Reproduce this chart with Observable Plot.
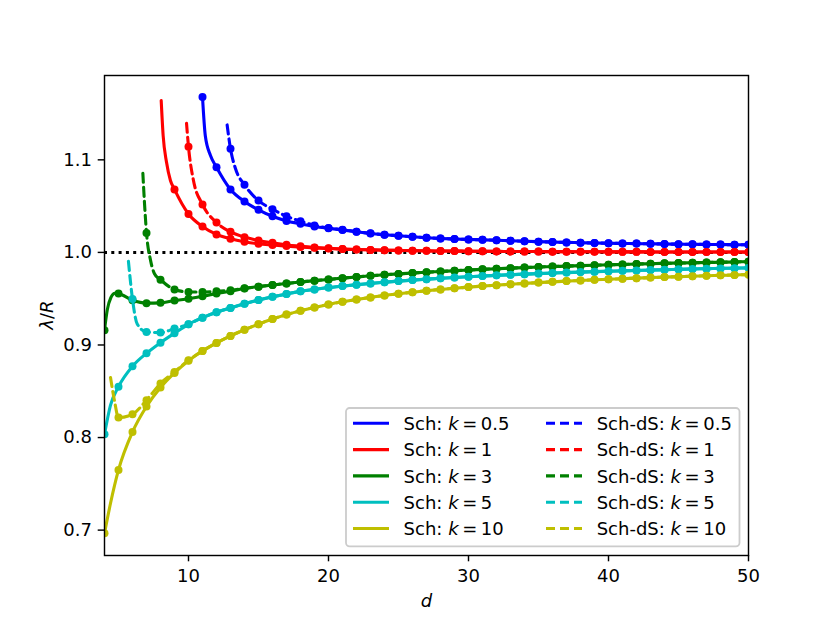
<!DOCTYPE html>
<html><head><meta charset="utf-8">
<script src="https://cdn.jsdelivr.net/npm/d3@7"></script>
<script src="https://cdn.jsdelivr.net/npm/@observablehq/plot@0.6"></script>
<style>
body{margin:0;background:#fff;}
#chart{width:830px;height:623px;}
</style>
</head><body><div id="chart"></div>
<script>
const xTicks = [10, 20, 30, 40, 50];
const yTicks = [0.7, 0.8, 0.9, 1.0, 1.1];
const kLabels = ["0.5", "1", "3", "5", "10"];
const colors = ["#0000ff", "#ff0000", "#008000", "#00bfbf", "#bfbf00"];

// Sch: k = 0.5 (dots at integer d starting at 11)
const schK05_d0 = 11;
const schK05_lam = [1.168, 1.092, 1.068, 1.055, 1.046, 1.039, 1.034, 1.031, 1.028, 1.026,
 1.0243, 1.0223, 1.0205, 1.019, 1.018, 1.0169, 1.0159, 1.0151, 1.0145, 1.014,
 1.0136, 1.0131, 1.0126, 1.0121, 1.0116, 1.0112, 1.0108, 1.0105, 1.0102, 1.0099,
 1.0097, 1.0095, 1.0093, 1.0091, 1.0089, 1.0088, 1.0086, 1.0085, 1.0083, 1.0082];
const schK05_curveD = [11.2, 11.57];
const schK05_curveLam = [1.126, 1.1046];

// Sch-dS: k = 0.5
const dsK05_d0 = 13;
const dsK05_lam = [1.112, 1.073, 1.056, 1.0466, 1.039, 1.0337, 1.0292, 1.0264,
 1.0245, 1.0224, 1.0206, 1.0191, 1.018, 1.0169, 1.0159, 1.0151, 1.0145, 1.014,
 1.0136, 1.0131, 1.0126, 1.0121, 1.0116, 1.0112, 1.0108, 1.0105, 1.0102, 1.0099,
 1.0097, 1.0095, 1.0093, 1.0091, 1.0089, 1.0088, 1.0086, 1.0085, 1.0083, 1.0082];
const dsK05_curveD = [12.76, 13.36];
const dsK05_curveLam = [1.1377, 1.0903];

// Sch: k = 1
const schK1_d0 = 9;
const schK1_lam = [1.068, 1.0415, 1.028, 1.0194, 1.0147, 1.0115, 1.0093, 1.008, 1.0068, 1.0058, 1.0049, 1.0042,
 1.0036, 1.0031, 1.0027, 1.0024, 1.0021, 1.0019, 1.0017, 1.0015, 1.0014, 1.0013,
 1.0012, 1.0011, 1.001, 1.0009, 1.0009, 1.0008, 1.0008, 1.0007, 1.0007, 1.0006,
 1.0006, 1.0006, 1.0005, 1.0005, 1.0005, 1.0004, 1.0004, 1.0004, 1.0004, 1.0003];
const schK1_curveD = [8.05, 8.19, 8.43, 8.71];
const schK1_curveLam = [1.164, 1.126, 1.0974, 1.0777];

// Sch-dS: k = 1
const dsK1_d0 = 10;
const dsK1_lam = [1.114, 1.0518, 1.0323, 1.0222, 1.0165, 1.0129, 1.0104, 1.0082, 1.0066, 1.0054, 1.0045,
 1.0036, 1.0031, 1.0027, 1.0024, 1.0021, 1.0019, 1.0017, 1.0015, 1.0014, 1.0013,
 1.0012, 1.0011, 1.001, 1.0009, 1.0009, 1.0008, 1.0008, 1.0007, 1.0007, 1.0006,
 1.0006, 1.0006, 1.0005, 1.0005, 1.0005, 1.0004, 1.0004, 1.0004, 1.0004, 1.0003];
const dsK1_curveD = [9.86, 10.33];
const dsK1_curveLam = [1.1395, 1.0795];

// Sch: k = 3
const schK3_d0 = 4;
const schK3_lam = [0.916, 0.9555, 0.9483, 0.9452, 0.9455, 0.948, 0.950, 0.9527, 0.9555, 0.958, 0.961, 0.963, 0.9648, 0.9665, 0.968, 0.9695, 0.9708,
 0.9722, 0.9735, 0.9747, 0.9758, 0.9768, 0.9777, 0.9786, 0.9794, 0.9802, 0.981,
 0.9817, 0.9824, 0.983, 0.9836, 0.9842, 0.9847, 0.9852, 0.9857, 0.9862, 0.9866,
 0.987, 0.9874, 0.9878, 0.9882, 0.9885, 0.9888, 0.9891, 0.9894, 0.9897, 0.99];
const schK3_curveD = [4.2, 4.45, 4.75];
const schK3_curveLam = [0.938, 0.951, 0.9558];

// Sch-dS: k = 3
const dsK3_d0 = 7;
const dsK3_lam = [1.021, 0.9705, 0.960, 0.9573, 0.9572, 0.958, 0.959, 0.9612,
 0.963, 0.9648, 0.9665, 0.968, 0.9695, 0.9708,
 0.9722, 0.9735, 0.9747, 0.9758, 0.9768, 0.9777, 0.9786, 0.9794, 0.9802, 0.981,
 0.9817, 0.9824, 0.983, 0.9836, 0.9842, 0.9847, 0.9852, 0.9857, 0.9862, 0.9866,
 0.987, 0.9874, 0.9878, 0.9882, 0.9885, 0.9888, 0.9891, 0.9894, 0.9897, 0.99];
const dsK3_curveD = [6.74, 6.86, 7.29, 7.57];
const dsK3_curveLam = [1.0855, 1.0525, 0.9914, 0.977];

// Sch: k = 5
const schK5_d0 = 4;
const schK5_lam = [0.8035, 0.855, 0.877, 0.891, 0.9025, 0.9127, 0.9223, 0.9295, 0.9353, 0.940, 0.9445, 0.9485, 0.952, 0.955, 0.958, 0.960, 0.962,
 0.9636, 0.9651, 0.9665, 0.9678, 0.969, 0.9701, 0.9711, 0.972, 0.9729, 0.9737,
 0.9745, 0.9752, 0.9759, 0.9765, 0.9771, 0.9777, 0.9782, 0.9787, 0.9792, 0.9797,
 0.9801, 0.9805, 0.9809, 0.9813, 0.9817, 0.9821, 0.9824, 0.9827, 0.983, 0.9833];
const schK5_curveD = [4.43];
const schK5_curveLam = [0.835];

// Sch-dS: k = 5
const dsK5_d0 = 6;
const dsK5_lam = [0.9496, 0.914, 0.9134, 0.9177, 0.9225,
 0.9295, 0.9353, 0.940, 0.9445, 0.9485, 0.952, 0.955, 0.958, 0.960, 0.962,
 0.9636, 0.9651, 0.9665, 0.9678, 0.969, 0.9701, 0.9711, 0.972, 0.9729, 0.9737,
 0.9745, 0.9752, 0.9759, 0.9765, 0.9771, 0.9777, 0.9782, 0.9787, 0.9792, 0.9797,
 0.9801, 0.9805, 0.9809, 0.9813, 0.9817, 0.9821, 0.9824, 0.9827, 0.983, 0.9833];
const dsK5_curveD = [5.71, 6.33];
const dsK5_curveLam = [0.9903, 0.923];

// Sch: k = 10
const schK10_d0 = 4;
const schK10_lam = [0.6966, 0.765, 0.806, 0.8335, 0.854, 0.8698, 0.883, 0.8935, 0.9022, 0.9098, 0.9165, 0.9225, 0.928, 0.9328, 0.937, 0.9406, 0.9438,
 0.9466, 0.9491, 0.9514, 0.9535, 0.9553, 0.957, 0.9586, 0.96, 0.9613, 0.9625,
 0.9636, 0.9646, 0.9656, 0.9665, 0.9674, 0.9682, 0.969, 0.9697, 0.9704, 0.971,
 0.9716, 0.9722, 0.9728, 0.9733, 0.9738, 0.9743, 0.9748, 0.9752, 0.9756, 0.976];
const schK10_curveD = [4.43];
const schK10_curveLam = [0.729];

// Sch-dS: k = 10
const dsK10_d0 = 5;
const dsK10_lam = [0.8216, 0.8252, 0.8404, 0.8584, 0.8709, 0.8835,
 0.8935, 0.9022, 0.9098, 0.9165, 0.9225, 0.928, 0.9328, 0.937, 0.9406, 0.9438,
 0.9466, 0.9491, 0.9514, 0.9535, 0.9553, 0.957, 0.9586, 0.96, 0.9613, 0.9625,
 0.9636, 0.9646, 0.9656, 0.9665, 0.9674, 0.9682, 0.969, 0.9697, 0.9704, 0.971,
 0.9716, 0.9722, 0.9728, 0.9733, 0.9738, 0.9743, 0.9748, 0.9752, 0.9756, 0.976];
const dsK10_curveD = [4.43, 4.71];
const dsK10_curveLam = [0.8648, 0.840];

function build(d0, lam, cd, cl) {
  const dots = lam.map((v, i) => ({d: d0 + i, lam: v}));
  const extra = cd.map((d, i) => ({d, lam: cl[i]}));
  const line = [...dots, ...extra].sort((a, b) => a.d - b.d);
  return {dots, line};
}

const schSeries = [
  build(schK05_d0, schK05_lam, schK05_curveD, schK05_curveLam),
  build(schK1_d0, schK1_lam, schK1_curveD, schK1_curveLam),
  build(schK3_d0, schK3_lam, schK3_curveD, schK3_curveLam),
  build(schK5_d0, schK5_lam, schK5_curveD, schK5_curveLam),
  build(schK10_d0, schK10_lam, schK10_curveD, schK10_curveLam)
];
const dsSeries = [
  build(dsK05_d0, dsK05_lam, dsK05_curveD, dsK05_curveLam),
  build(dsK1_d0, dsK1_lam, dsK1_curveD, dsK1_curveLam),
  build(dsK3_d0, dsK3_lam, dsK3_curveD, dsK3_curveLam),
  build(dsK5_d0, dsK5_lam, dsK5_curveD, dsK5_curveLam),
  build(dsK10_d0, dsK10_lam, dsK10_curveD, dsK10_curveLam)
];

const LW = 3.1, DASH = "9,5", R = 4;
const marks = [Plot.ruleY([1], {stroke: "black", strokeWidth: 3, strokeDasharray: "3,4.3"})];
schSeries.forEach((s, i) => {
  marks.push(Plot.line(s.line, {x: "d", y: "lam", stroke: colors[i], strokeWidth: LW, curve: "monotone-x", clip: true}));
  marks.push(Plot.dot(s.dots, {x: "d", y: "lam", r: R, fill: colors[i], stroke: "none", clip: true}));
});
dsSeries.forEach((s, i) => {
  marks.push(Plot.line(s.line, {x: "d", y: "lam", stroke: colors[i], strokeWidth: LW, strokeDasharray: DASH, curve: "monotone-x", clip: true}));
  marks.push(Plot.dot(s.dots, {x: "d", y: "lam", r: R, fill: colors[i], stroke: "none", clip: true}));
});
marks.push(Plot.frame({stroke: "black", strokeWidth: 1.44}));
marks.push(Plot.axisX({ticks: xTicks, tickSize: 6.3, tickPadding: 7.3, strokeWidth: 1.44, label: null, tickFormat: d => String(d)}));
marks.push(Plot.axisY({ticks: yTicks, tickSize: 6.3, tickPadding: 6.3, strokeWidth: 1.44, label: null, tickFormat: d3.format(".1f")}));

const chart = Plot.plot({
  width: 830, height: 623,
  marginLeft: 104, marginRight: 82, marginTop: 75, marginBottom: 68,
  style: {fontFamily: "DejaVu Sans", fontSize: "18px", background: "white", color: "black", overflow: "visible"},
  x: {domain: [4, 50]},
  y: {domain: [0.67259, 1.1911]},
  marks
});
document.getElementById("chart").appendChild(chart);

const svg = d3.select(chart);
// axis labels
const yl = svg.append("text").attr("transform", "translate(53,315) rotate(-90)")
  .attr("text-anchor", "middle").attr("font-family", "DejaVu Sans").attr("font-size", 18).attr("fill", "black");
yl.append("tspan").attr("font-style", "italic").text("λ");
yl.append("tspan").text("/");
yl.append("tspan").attr("font-style", "italic").text("R");
svg.append("text").attr("x", 426.4).attr("y", 607).attr("text-anchor", "middle")
  .attr("font-family", "DejaVu Sans").attr("font-size", 18).attr("font-style", "italic").attr("fill", "black").text("d");

// legend
const lg = svg.append("g").attr("font-family", "DejaVu Sans").attr("font-size", 18).attr("text-anchor", "start");
lg.append("rect").attr("x", 346).attr("y", 408).attr("width", 393.5).attr("height", 138.4).attr("rx", 3.6)
  .attr("fill", "white").attr("fill-opacity", 0.8).attr("stroke", "#cccccc").attr("stroke-width", 1.8);
const rowsY = [423.3, 449.6, 475.9, 502.2, 528.5];
const cols = [{hx: 353, tx: 403.6, prefix: "Sch: ", dash: null}, {hx: 546, tx: 596.7, prefix: "Sch-dS: ", dash: DASH}];
cols.forEach(c => {
  kLabels.forEach((k, i) => {
    const y = rowsY[i];
    lg.append("line").attr("x1", c.hx).attr("x2", c.hx + 36).attr("y1", y).attr("y2", y)
      .attr("stroke", colors[i]).attr("stroke-width", LW).attr("stroke-dasharray", c.dash);
    const t = lg.append("text").attr("x", c.tx).attr("y", y + 6.6).attr("fill", "black").attr("text-anchor", "start");
    t.append("tspan").text(c.prefix);
    t.append("tspan").attr("font-style", "italic").text("k");
    t.append("tspan").text("\u2009=\u2009" + k);
  });
});
</script>
</body></html>
